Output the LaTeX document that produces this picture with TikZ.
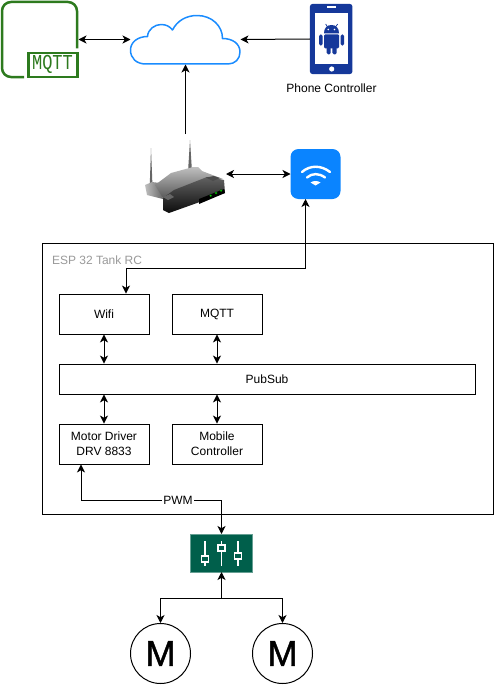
\documentclass[tikz,border=0pt]{standalone}
\usepackage{fontspec}
\setmainfont{Liberation Sans}
\newfontfamily\monofam{Liberation Mono}
\newfontfamily\motorfam[FakeBold=1.2]{Liberation Sans}
\usetikzlibrary{arrows.meta,calc}
\definecolor{mqttgreen}{HTML}{2D7A1E}
\definecolor{cloudblue}{HTML}{1A8CFF}
\definecolor{phoneblue}{HTML}{15389A}
\definecolor{wifiblue}{HTML}{0A84FF}
\definecolor{eqgreen}{HTML}{005F4B}
\tikzset{
  blockbox/.style={draw=black,line width=0.9pt,fill=white,align=center,inner sep=0pt,font=\fontsize{12}{15}\selectfont},
  iconbox/.style={inner sep=0pt,outer sep=0pt},
  conn/.style={line width=1pt,draw=black},
  twoway/.style={conn,{Stealth[length=8pt,width=8pt,inset=2.2pt]}-{Stealth[length=8pt,width=8pt,inset=2.2pt]}},
  oneway/.style={conn,-{Stealth[length=8pt,width=8pt,inset=2.2pt]}},
  motorcirc/.style={circle,draw=black,line width=1pt,fill=white,minimum size=60pt,inner sep=0pt,font=\motorfam\fontsize{36}{36}\selectfont},
}
\begin{document}
\begin{tikzpicture}[x=1pt,y=-1pt]
\useasboundingbox (0,0) rectangle (493,685);
% MQTT icon
\node[iconbox,minimum width=77pt,minimum height=76pt] (mqtticon) at (40,39.5) {};
\draw[mqttgreen,line width=2.5pt,rounded corners=9pt] (77,48.5) -- (77,2) -- (2,2) -- (2,77) -- (24,77);
\draw[mqttgreen,line width=2.5pt,fill=white] (28.5,53) rectangle (77.5,77);
\node[iconbox,text=mqttgreen,yscale=1.25,font=\monofam\fontsize{17}{17}\selectfont] (mqtttext) at (52.5,64.8) {MQTT};
% Cloud
\node[iconbox,minimum width=110pt,minimum height=50pt] (cloud) at (185.5,39.5) {};
\draw[cloudblue,line width=1.5pt,fill=white,line join=round]
  (146,64) .. controls (136,64) and (130.5,58) .. (130.5,50)
  .. controls (130.5,42) and (138,36.5) .. (147.5,36.5)
  .. controls (148,29) and (155,24.5) .. (161,24.5)
  .. controls (166,24.5) and (170,26.5) .. (172.5,30)
  .. controls (177,21) and (186,15.5) .. (197,15.5)
  .. controls (212,15.5) and (222.5,26) .. (222.5,38.5)
  .. controls (233,38.5) and (240,44) .. (240,52)
  .. controls (240,59) and (235,64) .. (228,64) -- cycle;
% Phone
\node[iconbox,minimum width=42.5pt,minimum height=70pt,fill=phoneblue,rounded corners=2.5pt] (phone) at (331.2,39) {};
\fill[white] (315,12.7) rectangle (348.3,64);
\fill[white] (326.7,6.4) rectangle (335.7,8.2);
\fill[white] (331.7,69) circle (2.6);
\begin{scope}[phoneblue]
  \fill (324,33.3) .. controls (324,28) and (327,25) .. (331.5,25) .. controls (336,25) and (339,28) .. (339,33.3) -- cycle;
  \fill[rounded corners=1.2pt] (324,34.3) rectangle (339,48.3);
  \fill[rounded corners=1.5pt] (326.7,45) rectangle (330.7,54.3);
  \fill[rounded corners=1.5pt] (332.3,45) rectangle (336.7,54.3);
  \fill[rounded corners=1.7pt] (319,34.3) rectangle (322.5,45.7);
  \fill[rounded corners=1.7pt] (340.7,34.3) rectangle (344,45.7);
  \draw[line width=0.7pt] (325.7,24) -- (327.5,27) (337.7,24) -- (335.5,27);
\end{scope}
\fill[white] (328.3,29.5) circle (0.9) (334.5,29.5) circle (0.9);
\node[iconbox,font=\fontsize{12}{14}\selectfont] (phonelabel) at (331.5,88) {Phone Controller};
% Router
\node[iconbox,minimum width=81pt,minimum height=80pt] (router) at (185.5,174) {};
\fill[black!60] (149.8,184) -- (151,148) -- (152.4,184) -- cycle;
\fill[black!60] (188,172) -- (190,140) -- (192,172) -- cycle;
\shade[left color=black!25,right color=black!60] (145,185) -- (152,182) -- (160,183) -- (163,199) -- (147,195) -- cycle;
\shade[top color=black!25,bottom color=black!65,draw=none] (155,185) -- (171,173) -- (193,167) -- (198,167) -- (202,171) -- (223,179) -- (175,192) -- (163,198) -- cycle;
\shade[top color=black!62,bottom color=black!95] (163,198) -- (174,190) -- (207,177) -- (224,180) -- (225,193) -- (169,213) -- (163,210) -- cycle;
\fill[black!70] (206,177.5) -- (214,176) -- (220,178) -- (213,181) -- cycle;
\fill[black!60] (163,197) -- (170,194) -- (174,197) -- (168,200) -- cycle;
\fill[black] (199,199) -- (224,189) -- (225,193) -- (199,204) -- cycle;
\fill[green!30!black] (210.7,195.7) circle (1.5) (216,193) circle (1.5) (221,190.7) circle (1.5);
\fill[green!85!black] (210.7,195.7) circle (0.8) (216,193) circle (0.8) (221,190.7) circle (0.8);
% Wifi icon
\node[iconbox,minimum size=50pt,fill=wifiblue,rounded corners=8pt] (wifiicon) at (315.5,174) {};
\begin{scope}[white,line cap=round,line width=2.4pt]
  \draw (302,172) .. controls (310,165) and (321,165) .. (330,172);
  \draw (307,177.5) .. controls (312,173) and (319,173) .. (325,177.5);
  \fill (310.5,182.5) .. controls (313,180.5) and (318,180.5) .. (320.5,182.5) -- (315.5,185.5) -- cycle;
\end{scope}
% ESP box
\node[draw=black,line width=0.9pt,minimum width=451pt,minimum height=271pt,inner sep=0pt] (esp) at (267.5,378.5) {};
\node[iconbox,anchor=west,text=black!40,font=\fontsize{12}{14}\selectfont] (esplabel) at (52,260) {ESP 32 Tank RC};
\node[blockbox,minimum width=90pt,minimum height=40pt] (wifibox) at (104,314) {\raisebox{-1pt}{Wifi}};
\node[blockbox,minimum width=90pt,minimum height=40pt] (mqttbox) at (217,314) {\raisebox{-1pt}{MQTT}};
\node[blockbox,minimum width=416pt,minimum height=30pt] (pubsub) at (267,379) {\raisebox{-1pt}{PubSub}};
\node[blockbox,minimum width=90pt,minimum height=40pt] (motor) at (104,444) {Motor Driver\\DRV 8833};
\node[blockbox,minimum width=90pt,minimum height=40pt] (mobile) at (217,444) {Mobile\\Controller};
% Equalizer
\node[iconbox,draw=eqgreen!60!white,line width=0.8pt,fill=eqgreen,minimum width=62pt,minimum height=38pt] (eq) at (221.5,553) {};
\begin{scope}[white,line width=1.2pt]
  \draw (205,541) -- (205,566);
  \draw (221.5,541) -- (221.5,566);
  \draw (238,541) -- (238,566);
  \draw[fill=eqgreen] (201.5,556) rectangle (208.5,562);
  \draw[fill=eqgreen] (218,545) rectangle (225,551);
  \draw[fill=eqgreen] (234.5,553) rectangle (241.5,559);
\end{scope}
% Motors
\node[motorcirc] (m1) at (160.5,653.5) {M};
\node[motorcirc] (m2) at (282.5,653.5) {M};
% Connectors
\coordinate (wifientry) at ($(wifibox.north)+(22,0)$);
\coordinate (wifibend) at (305.5,268);
\coordinate (wifistart) at (305.5,199);
\coordinate (pwmbend) at (81,500);
\coordinate (motorexit) at ($(motor.south)+(-23,0)$);
\coordinate (branch) at (221.5,598);
\draw[twoway] (mqtticon.east) -- (cloud.west);
\draw[oneway] (phone.west) -- (cloud.east);
\draw[oneway] (router.north) -- (cloud.south);
\draw[twoway] (router.east) -- (wifiicon.west);
\draw[twoway] (wifistart) -- (wifibend) -- (wifibend -| wifientry) -- (wifientry);
\draw[twoway] (wifibox.south) -- (wifibox.south |- pubsub.north);
\draw[twoway] (mqttbox.south) -- (mqttbox.south |- pubsub.north);
\draw[twoway] (motor.north) -- (motor.north |- pubsub.south);
\draw[twoway] (mobile.north) -- (mobile.north |- pubsub.south);
\draw[twoway] (motorexit) -- (pwmbend) -- (pwmbend -| eq.north) -- (eq.north);
\node[iconbox,fill=white,inner xsep=1pt,font=\fontsize{12}{13}\selectfont] (pwm) at (178,500) {PWM};
\draw[oneway] (branch) -- (eq.south);
\draw[oneway] (branch) -| (m1.north);
\draw[oneway] (branch) -| (m2.north);
\end{tikzpicture}
\end{document}
